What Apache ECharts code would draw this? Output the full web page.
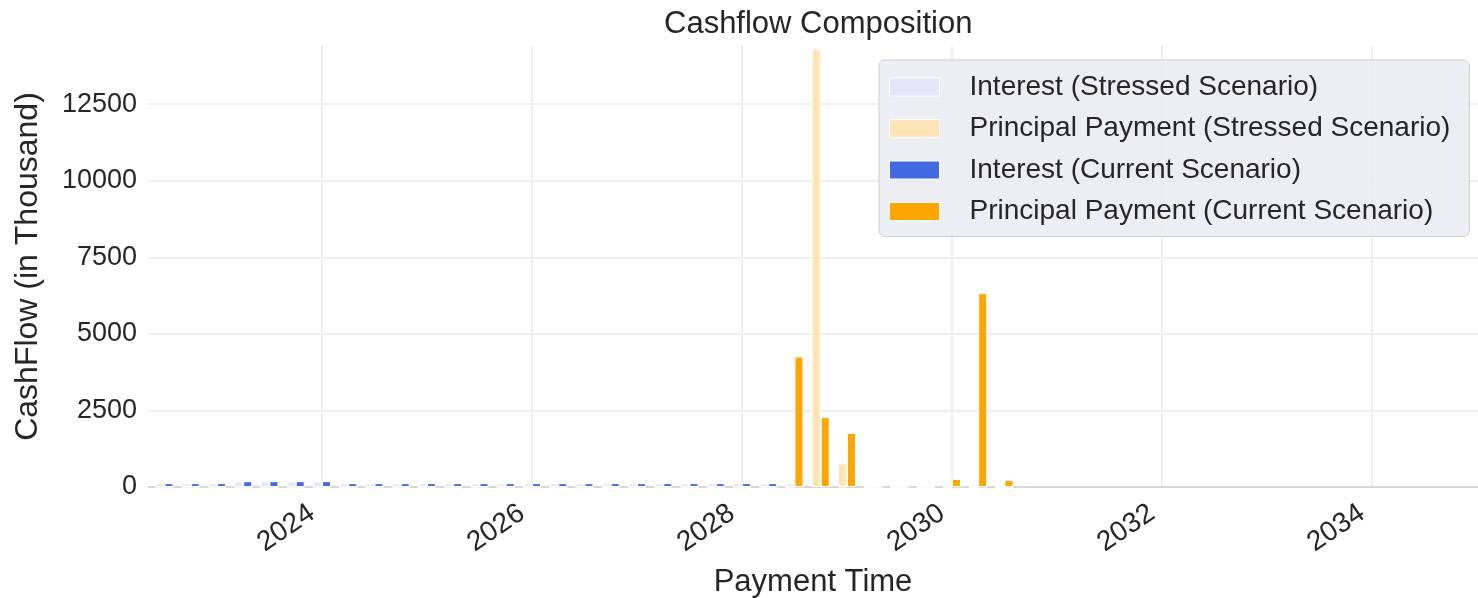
<!DOCTYPE html>
<html>
<head>
<meta charset="utf-8">
<script src="https://cdn.jsdelivr.net/npm/echarts@6/dist/echarts.min.js"></script>
<style>
html,body{margin:0;padding:0;background:#ffffff;}
#chart{width:1478px;height:598px;}
</style>
</head>
<body>
<div id="chart"></div>
<script>
// Quarterly payment dates
const quarters = [
  '2022-07','2022-10',
  '2023-01','2023-04','2023-07','2023-10',
  '2024-01','2024-04','2024-07','2024-10',
  '2025-01','2025-04','2025-07','2025-10',
  '2026-01','2026-04','2026-07','2026-10',
  '2027-01','2027-04','2027-07','2027-10',
  '2028-01','2028-04','2028-07','2028-10',
  '2029-01','2029-04','2029-07','2029-10',
  '2030-01','2030-04','2030-07'
];
const stressedInterest = [
  120,120,
  120,180,180,180,
  180,120,120,120,
  120,120,120,120,
  120,120,120,120,
  120,120,120,120,
  120,120,120,100,
  20,0,0,0,
  0,0,0
];
const stressedPrincipal = [
  0,0,
  0,0,0,0,
  0,0,0,0,
  0,0,0,0,
  0,0,0,0,
  0,0,0,0,
  0,0,0,14300,
  770,0,0,0,
  0,0,0
];
const currentInterest = [
  125,125,
  125,190,190,190,
  190,125,125,125,
  125,125,125,125,
  125,125,125,125,
  125,125,125,125,
  125,125,125,70,
  40,30,30,30,
  30,25,0
];
const currentPrincipal = [
  0,0,
  0,0,0,0,
  0,0,0,0,
  0,0,0,0,
  0,0,0,0,
  0,0,0,0,
  0,0,4260,2280,
  1765,0,0,0,
  260,6330,225
];
const yearTicks = [2024, 2026, 2028, 2030, 2032, 2034];
const yTicks = [0, 2500, 5000, 7500, 10000, 12500];
const seriesNames = [
  'Interest (Stressed Scenario)',
  'Principal Payment (Stressed Scenario)',
  'Interest (Current Scenario)',
  'Principal Payment (Current Scenario)'
];

function toYear(q) {
  const p = q.split('-');
  return Number(p[0]) + (Number(p[1]) - 1) / 12;
}
const xs = quarters.map(toYear);
function pairs(vals) { return xs.map((x, i) => [x, vals[i]]); }

const FONT = 'Liberation Sans, Arial, sans-serif';
const TXT = '#262626';

const barBase = {
  type: 'bar',
  barWidth: 9,
  barGap: '0%',
  clip: true,
  itemStyle: { borderColor: '#ffffff', borderWidth: 1 }
};

const chart = echarts.init(document.getElementById('chart'), null, { renderer: 'canvas' });
chart.setOption({
  animation: false,
  backgroundColor: '#ffffff',
  title: {
    text: 'Cashflow Composition',
    left: 659,
    top: 4,
    textStyle: { fontFamily: FONT, fontSize: 31, fontWeight: 'normal', color: TXT }
  },
  legend: {
    orient: 'vertical',
    left: 879,
    top: 60,
    padding: [12, 19, 10, 10],
    itemWidth: 50,
    itemHeight: 18,
    itemGap: 11.5,
    backgroundColor: 'rgba(234,234,242,0.85)',
    borderColor: '#cfcfcf',
    borderWidth: 1,
    borderRadius: 6,
    icon: 'rect',
    itemStyle: { borderColor: '#ffffff', borderWidth: 1 },
    textStyle: { fontFamily: FONT, fontSize: 28, color: TXT, lineHeight: 30, padding: [0, 0, 0, 25] },
    data: seriesNames
  },
  grid: { left: 148, right: 0, top: 46, bottom: 111, containLabel: false, outerBoundsMode: 'none' },
  xAxis: {
    type: 'value',
    min: 2022.343,
    max: 2035.01,
    name: 'Payment Time',
    nameLocation: 'middle',
    nameGap: 80,
    nameTextStyle: { fontFamily: FONT, fontSize: 31, color: TXT },
    axisLine: { show: true, lineStyle: { color: '#d0d0d0', width: 1.5 } },
    axisTick: { show: false, customValues: yearTicks },
    axisLabel: {
      customValues: yearTicks,
      rotate: 34,
      margin: 17,
      padding: [0, 12, 0, 0],
      fontFamily: FONT,
      fontSize: 28,
      color: TXT,
      formatter: v => String(Math.round(v))
    },
    splitLine: { show: true, lineStyle: { color: '#efefef', width: 2 } }
  },
  yAxis: {
    type: 'value',
    min: 0,
    max: 14400,
    name: 'CashFlow (in Thousand)',
    nameLocation: 'middle',
    nameGap: 104,
    nameTextStyle: { fontFamily: FONT, fontSize: 32, color: TXT },
    axisLine: { show: false },
    axisTick: { show: false, customValues: yTicks },
    axisLabel: {
      customValues: yTicks,
      margin: 11,
      fontFamily: FONT,
      fontSize: 27,
      color: TXT,
      formatter: v => String(v)
    },
    splitLine: { show: true, lineStyle: { color: '#efefef', width: 2 } }
  },
  series: [
    Object.assign({}, barBase, { name: seriesNames[0], stack: 'stressed', color: '#e6e6fa', data: pairs(stressedInterest) }),
    Object.assign({}, barBase, { name: seriesNames[1], stack: 'stressed', color: '#ffe4b5', data: pairs(stressedPrincipal) }),
    Object.assign({}, barBase, { name: seriesNames[2], stack: 'current', color: '#4169e1', data: pairs(currentInterest) }),
    Object.assign({}, barBase, { name: seriesNames[3], stack: 'current', color: '#ffa500', data: pairs(currentPrincipal) })
  ]
});
</script>
</body>
</html>
